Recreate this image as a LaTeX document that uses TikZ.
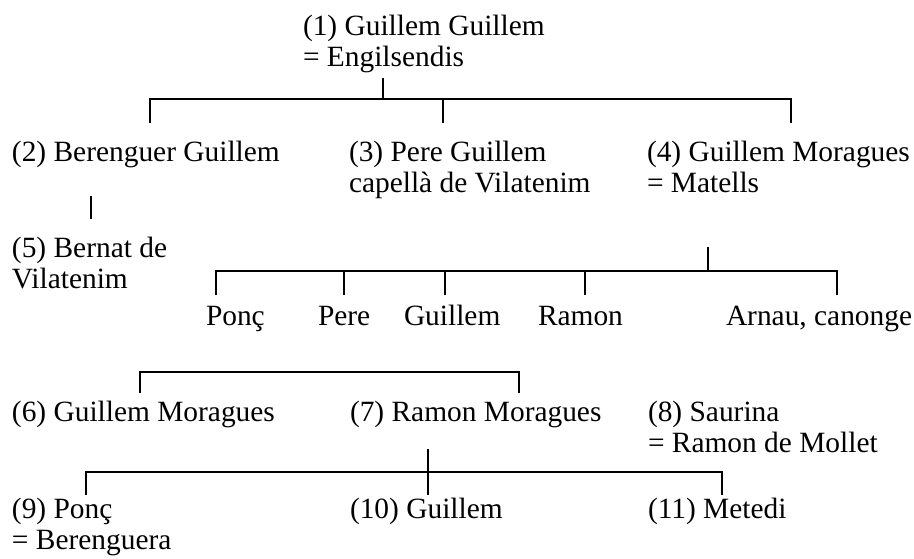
\documentclass[tikz,border=0pt]{standalone}
\usepackage{fontspec}
\setmainfont{Liberation Serif}
\newcommand{\myhtstrut}{\rule{0pt}{21pt}}
\begin{document}
\begin{tikzpicture}[x=1pt,y=-1pt,
  person/.style={anchor=north west, inner sep=0pt, outer sep=0pt, align=left,
    font=\fontsize{29.4}{31}\selectfont},
  treeline/.style={line width=1.2pt, black}]
\useasboundingbox (0,0) rectangle (914,558);
\fill[white] (0,0) rectangle (914,558);

% people
\node[person] (p1) at (303,14) {\myhtstrut(1) Guillem Guillem\\= Engilsendis};
\node[person] (p2) at (12,140) {\myhtstrut(2) Berenguer Guillem};
\node[person] (p3) at (349,140) {\myhtstrut(3) Pere Guillem\\capellà de Vilatenim};
\node[person] (p4) at (647,140) {\myhtstrut(4) Guillem Moragues\\= Matells};
\node[person] (p5) at (12,236) {\myhtstrut(5) Bernat de\\Vilatenim};
\node[person] (c1) at (206,304) {\myhtstrut Ponç};
\node[person] (c2) at (318,304) {\myhtstrut Pere};
\node[person] (c3) at (404,304) {\myhtstrut Guillem};
\node[person] (c4) at (538,304) {\myhtstrut Ramon};
\node[person] (c5) at (726,304) {\myhtstrut Arnau, canonge};
\node[person] (p6) at (12,400) {\myhtstrut(6) Guillem Moragues};
\node[person] (p7) at (350,400) {\myhtstrut(7) Ramon Moragues};
\node[person] (p8) at (648,400) {\myhtstrut(8) Saurina\\= Ramon de Mollet};
\node[person] (p9) at (12,497) {\myhtstrut(9) Ponç\\= Berenguera};
\node[person] (p10) at (350,497) {\myhtstrut(10) Guillem};
\node[person] (p11) at (648,497) {\myhtstrut(11) Metedi};

% family of (1)
\coordinate (a0) at (383,78);
\coordinate (a1) at (383,99);
\coordinate (aL) at (150,99);
\coordinate (aM) at (443,99);
\coordinate (aR) at (791,99);
\coordinate (d2) at (150,123);
\coordinate (d3) at (443,123);
\coordinate (d4) at (791,123);
\draw[treeline] (a0) -- (a1);
\draw[treeline] (d2) -- (aL) -- (aR) -- (d4);
\draw[treeline] (aM) -- (d3);

% (2) -> (5)
\coordinate (b0) at (91,196);
\coordinate (b1) at (91,219);
\draw[treeline] (b0) -- (b1);

% family of (4)
\coordinate (e0) at (708,247);
\coordinate (e1) at (708,271);
\coordinate (eL) at (216,271);
\coordinate (e2) at (344,271);
\coordinate (e3) at (445,271);
\coordinate (e4) at (585,271);
\coordinate (eR) at (837,271);
\coordinate (f1) at (216,295);
\coordinate (f2) at (344,295);
\coordinate (f3) at (445,295);
\coordinate (f4) at (585,295);
\coordinate (f5) at (837,295);
\draw[treeline] (e0) -- (e1);
\draw[treeline] (f1) -- (eL) -- (eR) -- (f5);
\draw[treeline] (e2) -- (f2);
\draw[treeline] (e3) -- (f3);
\draw[treeline] (e4) -- (f4);

% bracket over (6) and (7)
\coordinate (g1) at (140,393);
\coordinate (gL) at (140,372);
\coordinate (gR) at (519,372);
\coordinate (g2) at (519,393);
\draw[treeline] (g1) -- (gL) -- (gR) -- (g2);

% family of (7)
\coordinate (h0) at (428,449);
\coordinate (hM) at (428,472);
\coordinate (h2) at (428,495);
\coordinate (hL) at (86,472);
\coordinate (hR) at (722,472);
\coordinate (h1) at (86,495);
\coordinate (h3) at (722,495);
\draw[treeline] (h0) -- (h2);
\draw[treeline] (h1) -- (hL) -- (hR) -- (h3);
\end{tikzpicture}
\end{document}
